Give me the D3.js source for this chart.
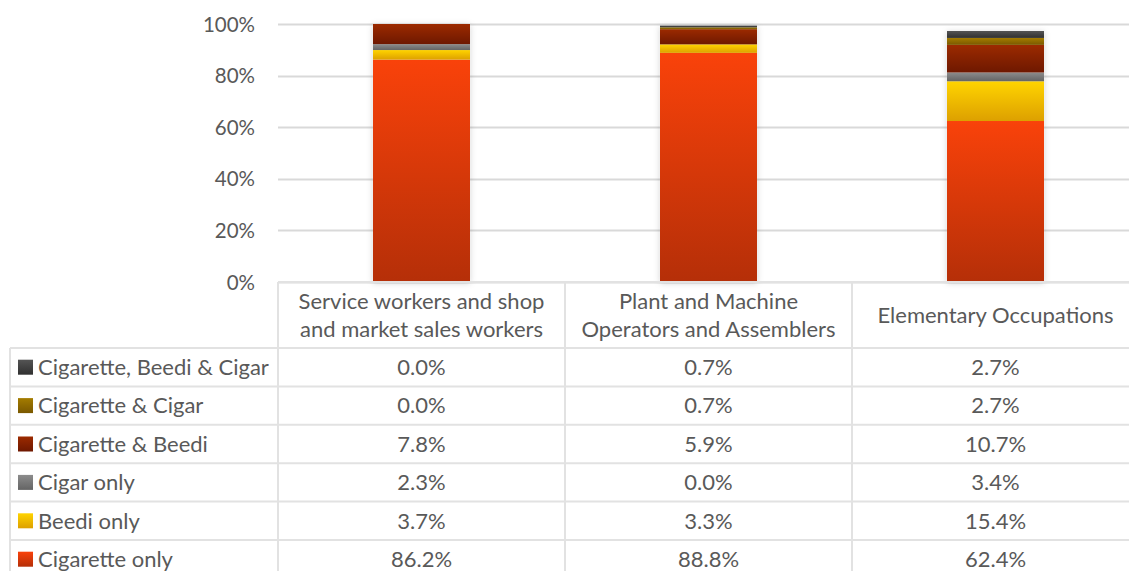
<!DOCTYPE html>
<html>
<head>
<meta charset="utf-8">
<script src="https://cdn.jsdelivr.net/npm/d3@7"></script>
<style>
  html, body { margin: 0; padding: 0; background: #fff; }
  svg { display: block; font-family: "Lato", "Open Sans", sans-serif; }
</style>
</head>
<body>
<svg id="chart" width="1129" height="571"></svg>
<script>
// Occupation groups (columns of the chart and data table)
const categories = [
  ["Service workers and shop", "and market sales workers"],
  ["Plant and Machine", "Operators and Assemblers"],
  ["Elementary Occupations"]
];

// Series, bottom of the stack first
const seriesNames = [
  "Cigarette only",
  "Beedi only",
  "Cigar only",
  "Cigarette & Beedi",
  "Cigarette & Cigar",
  "Cigarette, Beedi & Cigar"
];

// Share of users per occupation group (%)
const cigaretteOnly        = [86.2, 88.8, 62.4];
const beediOnly            = [3.7, 3.3, 15.4];
const cigarOnly            = [2.3, 0.0, 3.4];
const cigaretteBeedi       = [7.8, 5.9, 10.7];
const cigaretteCigar       = [0.0, 0.7, 2.7];
const cigaretteBeediCigar  = [0.0, 0.7, 2.7];

const yTicks = [0, 0.2, 0.4, 0.6, 0.8, 1.0];

// top / bottom gradient stops for each series
const seriesColors = [
  ["#F9420A", "#B52F08"],
  ["#FFD400", "#DDA000"],
  ["#8C8C8C", "#646464"],
  ["#9C2A00", "#6E1800"],
  ["#A47C00", "#7A5800"],
  ["#545454", "#303030"]
];

const seriesValues = [cigaretteOnly, beediOnly, cigarOnly, cigaretteBeedi, cigaretteCigar, cigaretteBeediCigar];

const rows = categories.map((c, i) => {
  const r = { key: i };
  seriesNames.forEach((s, j) => { r[s] = seriesValues[j][i] / 100; });
  return r;
});

const svg = d3.select("#chart");
const textColor = "#595959";
const gridColor = "#D9D9D9";
const tableColor = "#E2E2E2";
const fontSize = 22;
const axisFontSize = 20.5;

// geometry
const plotLeft = 278, plotRight = 1139, plotTop = 24, plotBottom = 282;
const tableLeft = 10;
const headerBottom = 348;
const rowH = 38.4;

const x = d3.scaleBand().domain(d3.range(categories.length)).range([plotLeft, plotRight]).padding(0);
const y = d3.scaleLinear().domain([0, 1]).range([plotBottom, plotTop]);
const barW = x.bandwidth() * 0.338;

// gradients and shadow
const defs = svg.append("defs");
seriesColors.forEach((c, i) => {
  const g = defs.append("linearGradient").attr("id", "grad" + i)
    .attr("x1", 0).attr("y1", 0).attr("x2", 0).attr("y2", 1);
  g.append("stop").attr("offset", "0%").attr("stop-color", c[0]);
  g.append("stop").attr("offset", "100%").attr("stop-color", c[1]);
});
const f = defs.append("filter").attr("id", "shadow")
  .attr("x", "-20%").attr("y", "-10%").attr("width", "140%").attr("height", "120%");
f.append("feDropShadow").attr("dx", 0).attr("dy", 1).attr("stdDeviation", 3)
  .attr("flood-color", "#000").attr("flood-opacity", 0.18);

// gridlines
svg.append("g").selectAll("line").data(yTicks).join("line")
  .attr("x1", plotLeft).attr("x2", 1129)
  .attr("y1", d => Math.round(y(d)) + 0.5).attr("y2", d => Math.round(y(d)) + 0.5)
  .attr("stroke", gridColor).attr("stroke-width", 2);

// y axis labels
const yAxis = d3.axisLeft(y).tickValues(yTicks).tickFormat(d3.format(".0%")).tickSize(0).tickPadding(0);
const ya = svg.append("g").attr("transform", `translate(255,0)`).call(yAxis);
ya.select(".domain").remove();
ya.selectAll("text").attr("fill", textColor).style("font-size", axisFontSize + "px")
  .style("font-family", "Lato, 'Open Sans', sans-serif").attr("dy", "0.35em");

// stacked bars
const stacked = d3.stack().keys(seriesNames)(rows);
const barG = svg.append("g");
barG.selectAll("g.bar").data(rows).join("g").attr("class", "bar")
  .append("rect")
  .attr("x", d => x(d.key) + (x.bandwidth() - barW) / 2)
  .attr("width", barW)
  .attr("y", d => y(d3.sum(seriesNames, s => d[s])))
  .attr("height", d => y(0) - y(d3.sum(seriesNames, s => d[s])))
  .attr("fill", "#fff")
  .attr("filter", "url(#shadow)");
stacked.forEach((layer, i) => {
  barG.append("g").selectAll("rect").data(layer).join("rect")
    .attr("x", (d, j) => x(j) + (x.bandwidth() - barW) / 2)
    .attr("width", barW)
    .attr("y", d => y(d[1]))
    .attr("height", d => Math.max(0, y(d[0]) - y(d[1])))
    .attr("fill", `url(#grad${i})`);
});

// data table
const tbl = svg.append("g");
const rowOrder = seriesNames.map((s, i) => i).reverse(); // top row = last series
const tableBottom = headerBottom + rowH * rowOrder.length;

// grid lines of table
const hLines = [headerBottom].concat(rowOrder.map((_, i) => headerBottom + rowH * (i + 1)));
tbl.selectAll("line.h").data(hLines).join("line").attr("class", "h")
  .attr("x1", tableLeft).attr("x2", 1129)
  .attr("y1", d => d).attr("y2", d => d)
  .attr("stroke", tableColor).attr("stroke-width", 2);
tbl.append("line").attr("x1", plotLeft).attr("x2", 1129)
  .attr("y1", plotBottom).attr("y2", plotBottom)
  .attr("stroke", tableColor).attr("stroke-width", 2);
tbl.append("line").attr("x1", tableLeft).attr("x2", tableLeft)
  .attr("y1", headerBottom).attr("y2", tableBottom)
  .attr("stroke", tableColor).attr("stroke-width", 2);
const vLines = d3.range(categories.length + 1).map(i => plotLeft + i * x.bandwidth());
tbl.selectAll("line.v").data(vLines).join("line").attr("class", "v")
  .attr("x1", d => d).attr("x2", d => d)
  .attr("y1", plotBottom).attr("y2", tableBottom)
  .attr("stroke", tableColor).attr("stroke-width", 2);

// header labels
categories.forEach((lines, i) => {
  const cx = x(i) + x.bandwidth() / 2;
  const mid = (plotBottom + headerBottom) / 2;
  const lh = 28;
  const t = tbl.append("text").attr("text-anchor", "middle").attr("fill", textColor)
    .style("font-size", fontSize + "px");
  lines.forEach((ln, k) => {
    t.append("tspan").attr("x", cx)
      .attr("y", mid + (k - (lines.length - 1) / 2) * lh)
      .attr("dy", "0.35em").text(ln);
  });
});

// rows
const fmt = v => v.toFixed(1) + "%";
rowOrder.forEach((si, r) => {
  const cy = headerBottom + rowH * r + rowH / 2;
  tbl.append("rect").attr("x", 18).attr("y", cy - 7.5).attr("width", 15).attr("height", 15)
    .attr("fill", `url(#grad${si})`);
  tbl.append("text").attr("x", 38).attr("y", cy).attr("dy", "0.35em")
    .attr("fill", textColor).style("font-size", fontSize + "px").text(seriesNames[si]);
  seriesValues[si].forEach((v, j) => {
    tbl.append("text").attr("x", x(j) + x.bandwidth() / 2).attr("y", cy).attr("dy", "0.35em")
      .attr("text-anchor", "middle").attr("fill", textColor)
      .style("font-size", fontSize + "px").text(fmt(v));
  });
});
</script>
</body>
</html>
